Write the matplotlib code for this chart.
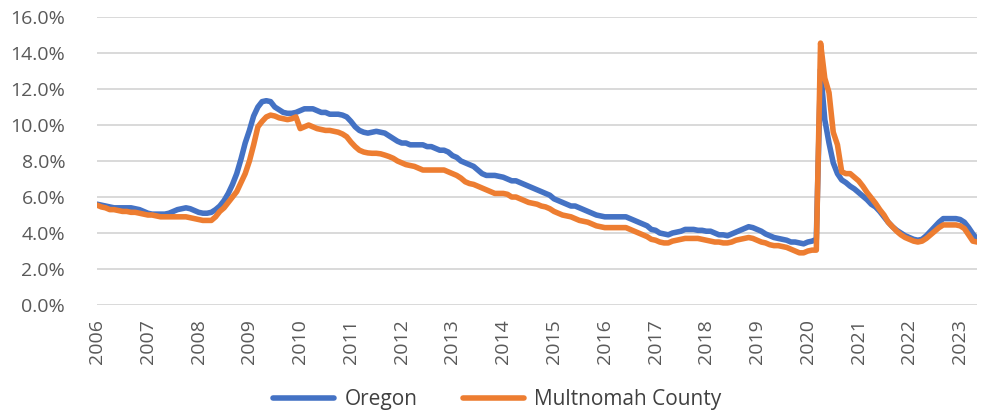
import matplotlib.pyplot as plt
from matplotlib.ticker import FuncFormatter

# monthly unemployment rate (%), Jan 2006 - May 2023
years = list(range(2006, 2024))

oregon = [
    5.6, 5.55, 5.5, 5.45, 5.4, 5.4, 5.4, 5.4, 5.4, 5.35, 5.3, 5.2,          # 2006
    5.1, 5.05, 5.05, 5.05, 5.05, 5.1, 5.2, 5.3, 5.35, 5.4, 5.35, 5.25,      # 2007
    5.15, 5.1, 5.1, 5.15, 5.3, 5.5, 5.8, 6.2, 6.7, 7.3, 8.1, 9.0,           # 2008
    9.7, 10.5, 11.0, 11.3, 11.35, 11.3, 11.0, 10.85, 10.7, 10.65, 10.65, 10.7,  # 2009
    10.8, 10.9, 10.9, 10.9, 10.8, 10.7, 10.7, 10.6, 10.6, 10.6, 10.55, 10.45,   # 2010
    10.2, 9.9, 9.7, 9.6, 9.55, 9.6, 9.65, 9.6, 9.55, 9.4, 9.25, 9.1,       # 2011
    9.0, 9.0, 8.9, 8.9, 8.9, 8.9, 8.8, 8.8, 8.7, 8.6, 8.6, 8.5,            # 2012
    8.3, 8.2, 8.0, 7.9, 7.8, 7.7, 7.5, 7.3, 7.2, 7.2, 7.2, 7.15,           # 2013
    7.1, 7.0, 6.9, 6.9, 6.8, 6.7, 6.6, 6.5, 6.4, 6.3, 6.2, 6.1,            # 2014
    5.9, 5.8, 5.7, 5.6, 5.5, 5.5, 5.4, 5.3, 5.2, 5.1, 5.0, 4.95,           # 2015
    4.9, 4.9, 4.9, 4.9, 4.9, 4.9, 4.8, 4.7, 4.6, 4.5, 4.4, 4.2,            # 2016
    4.15, 4.0, 3.95, 3.9, 4.0, 4.05, 4.1, 4.2, 4.2, 4.2, 4.15, 4.15,       # 2017
    4.1, 4.1, 4.0, 3.9, 3.9, 3.85, 3.95, 4.05, 4.15, 4.25, 4.35, 4.3,      # 2018
    4.2, 4.1, 3.95, 3.85, 3.75, 3.7, 3.65, 3.6, 3.5, 3.5, 3.45, 3.4,       # 2019
    3.5, 3.55, 3.65, 13.1, 10.3, 9.0, 7.9, 7.3, 6.95, 6.8, 6.6, 6.45,      # 2020
    6.25, 6.05, 5.85, 5.6, 5.45, 5.2, 4.9, 4.6, 4.35, 4.15, 4.0, 3.85,     # 2021
    3.75, 3.65, 3.6, 3.65, 3.85, 4.1, 4.35, 4.6, 4.8, 4.8, 4.8, 4.8,       # 2022
    4.75, 4.6, 4.3, 3.95, 3.65,                                            # 2023
]

multnomah = [
    5.55, 5.45, 5.4, 5.3, 5.3, 5.25, 5.2, 5.2, 5.15, 5.15, 5.1, 5.05,      # 2006
    5.0, 5.0, 4.95, 4.9, 4.9, 4.9, 4.9, 4.9, 4.9, 4.9, 4.85, 4.8,          # 2007
    4.75, 4.7, 4.7, 4.7, 4.9, 5.2, 5.4, 5.7, 6.0, 6.3, 6.8, 7.3,           # 2008
    8.0, 8.9, 9.9, 10.2, 10.45, 10.55, 10.5, 10.4, 10.35, 10.3, 10.35, 10.45,  # 2009
    9.8, 9.9, 10.0, 9.9, 9.8, 9.75, 9.7, 9.7, 9.65, 9.6, 9.5, 9.35,        # 2010
    9.05, 8.8, 8.6, 8.5, 8.45, 8.43, 8.43, 8.4, 8.33, 8.25, 8.15, 8.0,     # 2011
    7.9, 7.8, 7.75, 7.7, 7.6, 7.5, 7.5, 7.5, 7.5, 7.5, 7.5, 7.4,           # 2012
    7.3, 7.2, 7.05, 6.85, 6.75, 6.7, 6.6, 6.5, 6.4, 6.3, 6.2, 6.2,         # 2013
    6.2, 6.15, 6.0, 6.0, 5.9, 5.8, 5.7, 5.65, 5.6, 5.5, 5.45, 5.35,        # 2014
    5.2, 5.1, 5.0, 4.95, 4.9, 4.8, 4.7, 4.65, 4.6, 4.5, 4.4, 4.35,         # 2015
    4.3, 4.3, 4.3, 4.3, 4.3, 4.3, 4.2, 4.1, 4.0, 3.9, 3.8, 3.65,           # 2016
    3.6, 3.5, 3.45, 3.45, 3.55, 3.6, 3.65, 3.7, 3.7, 3.7, 3.7, 3.65,       # 2017
    3.6, 3.55, 3.5, 3.5, 3.45, 3.45, 3.5, 3.6, 3.65, 3.7, 3.75, 3.7,       # 2018
    3.6, 3.5, 3.45, 3.35, 3.3, 3.3, 3.25, 3.2, 3.1, 3.0, 2.9, 2.9,         # 2019
    3.0, 3.05, 3.05, 14.55, 12.6, 11.8, 9.6, 8.9, 7.4, 7.3, 7.3, 7.1,      # 2020
    6.9, 6.6, 6.25, 5.95, 5.65, 5.3, 5.0, 4.6, 4.35, 4.1, 3.9, 3.75,       # 2021
    3.65, 3.55, 3.5, 3.55, 3.7, 3.9, 4.1, 4.3, 4.45, 4.45, 4.45, 4.45,     # 2022
    4.4, 4.25, 3.9, 3.55, 3.5,                                             # 2023
]

months = list(range(len(oregon)))

fig, ax = plt.subplots(figsize=(9.81, 4.15), dpi=100)
fig.subplots_adjust(left=0.099, right=0.996, top=0.959, bottom=0.265)

ax.plot(months, oregon, color='#4472C4', lw=4.0, label='Oregon', solid_capstyle='round')
ax.plot(months, multnomah, color='#ED7D31', lw=4.0, label='Multnomah County', solid_capstyle='round')

ax.set_ylim(0, 16)
ax.set_yticks(range(0, 17, 2))
ax.yaxis.set_major_formatter(FuncFormatter(lambda v, p: f"{v:.1f}%"))
ax.set_xlim(0, len(oregon) - 1)
ax.set_xticks([12 * i for i in range(len(years))])
ax.set_xticklabels([str(y) for y in years], rotation=90)

ax.grid(axis='y', color='#D9D9D9', lw=1.4)
ax.set_axisbelow(True)
for s in ax.spines.values():
    s.set_visible(False)
ax.tick_params(length=0, labelsize=14, colors='#595959')
ax.tick_params(axis='y', pad=23)
ax.tick_params(axis='x', pad=10)
for lab in ax.get_xticklabels() + ax.get_yticklabels():
    lab.set_fontfamily('Open Sans')

leg = fig.legend(loc='center', bbox_to_anchor=(0.507, 0.037), ncol=2, frameon=False,
                 handlelength=2.9, handletextpad=0.5, columnspacing=2.2,
                 prop={'family': 'Open Sans', 'size': 15})
for t in leg.get_texts():
    t.set_color('#404040')

fig.savefig('out.png', dpi=100)
